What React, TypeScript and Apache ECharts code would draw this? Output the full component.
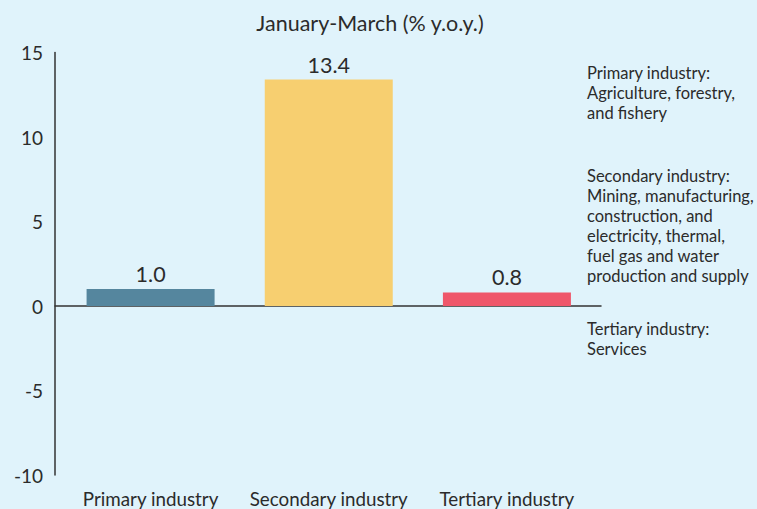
import React, { useEffect, useRef } from "react";
import * as echarts from "echarts";

const categories = ["Primary industry", "Secondary industry", "Tertiary industry"];
const values = [1.0, 13.4, 0.8];
const barColors = ["#55869e", "#f7cf70", "#ef566a"];
const subtitle = "January-March (% y.o.y.)";
const notes = [
  "Primary industry:\nAgriculture, forestry,\nand fishery",
  "Secondary industry:\nMining, manufacturing,\nconstruction, and\nelectricity, thermal,\nfuel gas and water\nproduction and supply",
  "Tertiary industry:\nServices",
];
const noteTops = [63, 166, 319];
const yMin = -10;
const yMax = 15;
const yStep = 5;

const FONT = "Lato, 'Noto Sans', sans-serif";
const TXT = "#2b2b2b";

export default function App() {
  const ref = useRef<HTMLDivElement>(null);
  useEffect(() => {
    document.body.style.margin = "0";
    const chart = echarts.init(ref.current!, undefined, { renderer: "svg" });
    chart.setOption({
      animation: false,
      backgroundColor: "#e0f3fb",
      textStyle: { fontFamily: FONT },
      title: {
        text: subtitle,
        left: 365,
        textAlign: "center",
        top: 7,
        textStyle: { fontSize: 21.5, fontWeight: "normal", color: TXT, fontFamily: FONT },
      },
      grid: [
        { left: 61.5, right: 161, top: 52.5, bottom: 34 },
        { left: 55, right: 156, top: 52.5, bottom: 34 },
      ],
      xAxis: [
        {
          type: "category",
          gridIndex: 0,
          data: categories,
          axisLine: { show: false },
          axisTick: { show: false },
          axisLabel: { color: TXT, fontSize: 18.8, margin: 14, fontFamily: FONT, interval: 0 },
        },
        {
          type: "category",
          gridIndex: 1,
          data: categories,
          axisLine: { onZero: true, lineStyle: { color: "#333", width: 1.5 } },
          axisTick: { show: false },
          axisLabel: { show: false },
        },
      ],
      yAxis: [
        {
          type: "value",
          gridIndex: 0,
          min: yMin,
          max: yMax,
          interval: yStep,
          show: false,
          splitLine: { show: false },
        },
        {
          type: "value",
          gridIndex: 1,
          min: yMin,
          max: yMax,
          interval: yStep,
          splitLine: { show: false },
          axisLine: { show: true, lineStyle: { color: "#333", width: 1.5 } },
          axisTick: { show: false },
          axisLabel: { color: TXT, fontSize: 19, margin: 12, fontFamily: FONT },
        },
      ],
      series: [
        {
          type: "bar",
          xAxisIndex: 0,
          yAxisIndex: 0,
          barWidth: 128,
          data: values.map((v, i) => ({ value: v, itemStyle: { color: barColors[i] } })),
          label: {
            show: true,
            position: "top",
            distance: 4,
            color: TXT,
            fontSize: 21.5,
            fontFamily: FONT,
            formatter: (p: any) => Number(p.value).toFixed(1),
          },
        },
      ],
      graphic: notes.map((t, i) => ({
        type: "text",
        left: 587,
        top: noteTops[i],
        style: { text: t, fontSize: 16.5, lineHeight: 20, fill: TXT, fontFamily: FONT },
      })),
    });
    return () => chart.dispose();
  }, []);
  return <div ref={ref} style={{ position: "fixed", left: 0, top: 0, width: 757, height: 509 }} />;
}
